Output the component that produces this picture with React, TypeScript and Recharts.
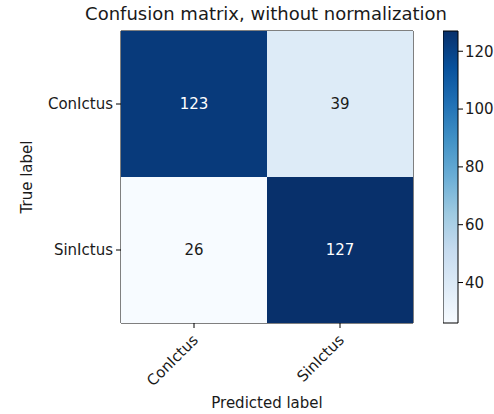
import React from 'react';
import { BarChart, Bar, XAxis, YAxis, Cell, ReferenceArea, Label } from 'recharts';

const predictedLabels = ['ConIctus', 'SinIctus'];
const trueLabels = ['ConIctus', 'SinIctus'];
// rows = true label, columns = predicted label
const conIctusRow = [123, 39];
const sinIctusRow = [26, 127];
const colorbarTicks = [40, 60, 80, 100, 120];

const allValues = [...conIctusRow, ...sinIctusRow];
const vmin = Math.min(...allValues);
const vmax = Math.max(...allValues);
const thresh = vmax / 2;

const data = predictedLabels.map((p, j) => ({
    pred: p,
    row0: 1,
    row1: 1,
    v0: conIctusRow[j],
    v1: sinIctusRow[j],
}));

const colorbarData = [{ name: 'cb', span: [vmin, vmax] }];

// matplotlib "Blues"
const blues = ['#f7fbff', '#deebf7', '#c6dbef', '#9ecae1', '#6baed6', '#4292c6', '#2171b5', '#08519c', '#08306b'];

const hex = (c: string) => [1, 3, 5].map(i => parseInt(c.slice(i, i + 2), 16));
const bluesAt = (v: number) => {
    const t = Math.max(0, Math.min(1, (v - vmin) / (vmax - vmin))) * (blues.length - 1);
    const i = Math.min(blues.length - 2, Math.floor(t));
    const f = t - i;
    const a = hex(blues[i]);
    const b = hex(blues[i + 1]);
    const m = a.map((x, k) => Math.round(x + (b[k] - x) * f));
    return `rgb(${m[0]},${m[1]},${m[2]})`;
};

const font = 'DejaVu Sans, sans-serif';
const textColor = '#1a1a1a';

// y axis is reversed, so bar heights come in negative
const makeCell = (key: 'v0' | 'v1') => (p: any) => {
    const v = p.payload[key];
    const top = Math.min(p.y, p.y + p.height);
    const h = Math.abs(p.height);
    return (
        <g>
            <rect x={p.x} y={top} width={p.width} height={h} fill={bluesAt(v)} />
            <text
                x={p.x + p.width / 2}
                y={top + h / 2}
                textAnchor="middle"
                dominantBaseline="central"
                fontSize={15}
                fontFamily={font}
                fill={v > thresh ? '#ffffff' : textColor}
            >
                {v}
            </text>
        </g>
    );
};

const RotTick = (props: any) => {
    const { x, y, payload } = props;
    return (
        <g transform={`translate(${x + 5},${y + 11})`}>
            <text textAnchor="end" transform="rotate(-45)" fontSize={15} fontFamily={font} fill={textColor}>
                {payload.value}
            </text>
        </g>
    );
};

export default function App() {
    return (
        <div style={{ position: 'absolute', left: 0, top: 0, width: 494, height: 414, background: '#fff', fontFamily: font }}>
            <div style={{ position: 'absolute', left: 0, width: 532, top: 3, textAlign: 'center', fontSize: 18, color: textColor, whiteSpace: 'nowrap' }}>
                Confusion matrix, without normalization
            </div>
            <div style={{ position: 'absolute', left: 0, top: 0 }}>
                <BarChart
                    width={494}
                    height={414}
                    data={data}
                    margin={{ top: 31, right: 81, bottom: 4, left: 0 }}
                    barCategoryGap={0}
                    barGap={0}
                >
                    <XAxis
                        dataKey="pred"
                        height={87}
                        axisLine={false}
                        tickLine={{ stroke: '#000' }}
                        tickSize={5}
                        tick={<RotTick />}
                        interval={0}
                    >
                        <Label value="Predicted label" position="insideBottom" offset={2} style={{ fontSize: 15, fill: textColor, fontFamily: font }} />
                    </XAxis>
                    <YAxis
                        type="number"
                        domain={[0, 2]}
                        reversed
                        ticks={[0.5, 1.5]}
                        tickFormatter={(v: number) => trueLabels[Math.floor(v)]}
                        width={121}
                        axisLine={false}
                        tickLine={{ stroke: '#000' }}
                        tickSize={5}
                        tickMargin={3}
                        tick={{ fontSize: 15, fill: textColor, fontFamily: font }}
                    >
                        <Label value="True label" angle={-90} position="insideLeft" offset={27} style={{ fontSize: 15, fill: textColor, fontFamily: font, textAnchor: 'middle' }} />
                    </YAxis>
                    <Bar dataKey="row0" stackId="m" isAnimationActive={false} shape={makeCell('v0')}>
                        {data.map((d, i) => <Cell key={i} fill={bluesAt(d.v0)} />)}
                    </Bar>
                    <Bar dataKey="row1" stackId="m" isAnimationActive={false} shape={makeCell('v1')}>
                        {data.map((d, i) => <Cell key={i} fill={bluesAt(d.v1)} />)}
                    </Bar>
                    <ReferenceArea y1={0} y2={2} fill="none" fillOpacity={0} stroke="#000" strokeWidth={1} ifOverflow="visible" />
                </BarChart>
            </div>
            <div style={{ position: 'absolute', left: 443, top: 0 }}>
                <BarChart
                    width={51}
                    height={414}
                    data={colorbarData}
                    margin={{ top: 31, right: 0, bottom: 91, left: 0 }}
                    barCategoryGap={0}
                >
                    <defs>
                        <linearGradient id="cbGrad" x1="0" y1="1" x2="0" y2="0">
                            {blues.map((c, i) => (
                                <stop key={i} offset={`${(i / (blues.length - 1)) * 100}%`} stopColor={c} />
                            ))}
                        </linearGradient>
                    </defs>
                    <XAxis dataKey="name" hide />
                    <YAxis
                        orientation="right"
                        type="number"
                        domain={[vmin, vmax]}
                        ticks={colorbarTicks}
                        width={36}
                        axisLine={false}
                        tickLine={{ stroke: '#000' }}
                        tickSize={5}
                        tickMargin={2}
                        tick={{ fontSize: 15, fill: textColor, fontFamily: font }}
                    />
                    <Bar dataKey="span" fill="url(#cbGrad)" stroke="#000" strokeWidth={1} isAnimationActive={false} />
                </BarChart>
            </div>
        </div>
    );
}
